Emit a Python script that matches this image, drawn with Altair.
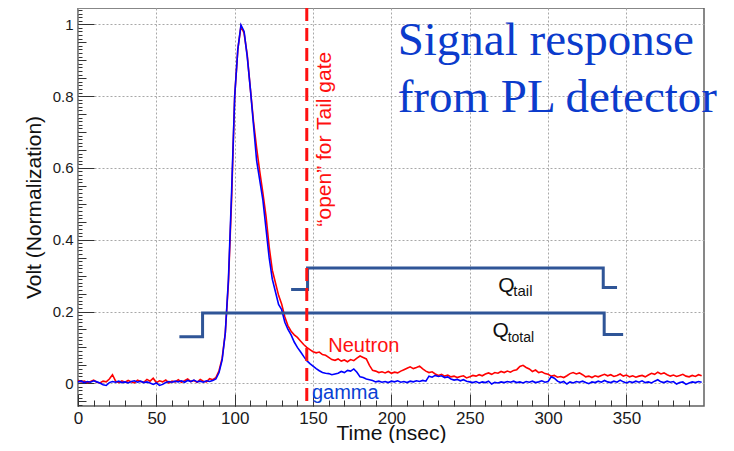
import altair as alt
import pandas as pd

# ---------------- data ----------------
T_NS = list(range(0, 400, 2))  # sample times (ns)

NEUTRON = [
    0.008, 0.004, 0.006, 0.002, 0.005, 0.009, 0.003, 0.001, 0.006, 0.004,
    0.012, 0.024, 0.006, 0.002, 0.007, 0.003, 0.008, 0.004, 0.001, 0.009,
    0.005, 0.003, 0.011, 0.006, 0.014, 0.002, 0.007, 0.004, 0.009, 0.001,
    0.006, 0.004, 0.010, 0.003, 0.007, 0.012, 0.005, 0.008, 0.003, 0.011,
    0.006, 0.004, 0.013, 0.010, 0.016, 0.035, 0.070, 0.140, 0.280, 0.510,
    0.800, 0.930, 0.995, 0.975, 0.915, 0.820, 0.730, 0.655, 0.590, 0.530,
    0.465, 0.380, 0.315, 0.280, 0.245, 0.220, 0.185, 0.160, 0.145, 0.135,
    0.128, 0.118, 0.108, 0.100, 0.094, 0.088, 0.085, 0.087, 0.080, 0.078,
    0.072, 0.066, 0.064, 0.068, 0.062, 0.065, 0.060, 0.066, 0.063, 0.070,
    0.076, 0.072, 0.068, 0.050, 0.036, 0.034, 0.030, 0.032, 0.029, 0.033,
    0.028, 0.031, 0.029, 0.034, 0.038, 0.042, 0.046, 0.041, 0.044, 0.048,
    0.040, 0.034, 0.030, 0.032, 0.026, 0.022, 0.025, 0.020, 0.023, 0.018,
    0.020, 0.016, 0.019, 0.021, 0.015, 0.018, 0.022, 0.020, 0.024, 0.021,
    0.026, 0.029, 0.025, 0.030, 0.028, 0.033, 0.030, 0.034, 0.031, 0.036,
    0.038, 0.047, 0.050, 0.044, 0.040, 0.033, 0.037, 0.030, 0.032, 0.027,
    0.025, 0.020, 0.022, 0.017, 0.019, 0.016, 0.021, 0.027, 0.030, 0.026,
    0.029, 0.024, 0.018, 0.020, 0.016, 0.021, 0.018, 0.022, 0.025, 0.021,
    0.024, 0.019, 0.022, 0.026, 0.020, 0.023, 0.018, 0.021, 0.017, 0.020,
    0.022, 0.018, 0.023, 0.028, 0.025, 0.031, 0.026, 0.029, 0.024, 0.020,
    0.023, 0.019, 0.022, 0.025, 0.020, 0.018, 0.022, 0.019, 0.024, 0.021,
]

GAMMA = [
    0.004, 0.006, 0.002, 0.005, 0.003, 0.007, 0.004, 0.001, -0.004, -0.006,
    0.002, 0.005, 0.003, 0.006, 0.002, 0.004, 0.001, 0.005, 0.007, 0.003,
    0.006, 0.002, 0.004, 0.001, -0.003, 0.001, -0.006, -0.003, 0.002, 0.005,
    0.003, 0.006, 0.004, 0.007, 0.003, 0.008, 0.005, 0.009, 0.004, 0.006,
    0.003, 0.007, 0.005, 0.008, 0.012, 0.030, 0.065, 0.140, 0.290, 0.530,
    0.800, 0.930, 0.998, 0.980, 0.910, 0.820, 0.720, 0.620, 0.565, 0.510,
    0.430, 0.350, 0.290, 0.255, 0.220, 0.205, 0.170, 0.150, 0.135, 0.115,
    0.100, 0.088, 0.075, 0.063, 0.055, 0.048, 0.041, 0.035, 0.030, 0.028,
    0.027, 0.024, 0.026, 0.028, 0.033, 0.030, 0.036, 0.034, 0.040, 0.031,
    0.018, 0.016, 0.012, 0.010, 0.008, 0.004, 0.006, 0.003, 0.005, 0.002,
    0.006, 0.004, 0.007, 0.003, 0.005, 0.002, 0.006, 0.004, 0.007, 0.005,
    0.008, 0.006, 0.020, 0.017, 0.022, 0.019, 0.021, 0.016, 0.018, 0.012,
    0.009, 0.011, 0.007, 0.010, 0.006, 0.004, 0.002, 0.005, 0.001, 0.004,
    0.002, 0.006, -0.002, 0.003, 0.001, 0.004, 0.002, 0.005, 0.003, 0.006,
    0.002, 0.004, 0.001, 0.005, 0.003, 0.006, 0.002, 0.004, 0.007, 0.003,
    0.005, 0.018, 0.014, 0.006, 0.002, 0.005, -0.002, 0.004, 0.001, 0.005,
    0.003, 0.006, 0.002, -0.001, 0.004, 0.002, 0.006, 0.003, 0.008, 0.004,
    0.002, 0.006, 0.003, 0.009, 0.004, 0.001, 0.005, 0.002, 0.006, 0.003,
    0.007, 0.002, 0.004, 0.001, 0.006, 0.010, 0.004, 0.002, 0.006, 0.003,
    0.005, -0.002, 0.002, 0.004, -0.003, 0.001, 0.004, 0.002, 0.005, 0.003,
]
assert len(NEUTRON) == len(T_NS) == len(GAMMA)

# gate shapes (ns, V)
QTAIL_X = [136, 146.5, 146.5, 335.2, 335.2, 344]
QTAIL_Y = [0.261, 0.261, 0.321, 0.321, 0.267, 0.267]
QTOTAL_X = [64.7, 79.5, 79.5, 335.8, 335.8, 347.9]
QTOTAL_Y = [0.130, 0.130, 0.196, 0.196, 0.136, 0.136]
GATE_OPEN_X = [146]

# tick values
X_MAJOR = [0, 50, 100, 150, 200, 250, 300, 350]
X_MINOR = [10 * i for i in range(40)]
Y_MAJOR = [0, 0.2, 0.4, 0.6, 0.8, 1.0]
Y_MINOR = [round(-0.05 + 0.05 * i, 2) for i in range(22)]
Y_FINE = [round(-0.06 + 0.01 * i, 2) for i in range(111)]

TITLE_LINES = ["Signal response", "from PL detector"]

# ---------------- chart ----------------
W, H = 626, 398
XS = alt.Scale(domain=[0, 399.5], nice=False, zero=False)
YS = alt.Scale(domain=[-0.0632, 1.0454], nice=False, zero=False)
SANS = "Liberation Sans"
SERIF = "Liberation Serif"
TICK_COLOR = "#333333"
GATE_COLOR = "#2f5597"

neutron_df = pd.DataFrame({"t": T_NS, "v": NEUTRON})
gamma_df = pd.DataFrame({"t": T_NS, "v": GAMMA})
qtail_df = pd.DataFrame({"t": QTAIL_X, "v": QTAIL_Y, "i": range(len(QTAIL_X))})
qtotal_df = pd.DataFrame({"t": QTOTAL_X, "v": QTOTAL_Y, "i": range(len(QTOTAL_X))})
gate_df = pd.DataFrame({"t": GATE_OPEN_X})

x_main = alt.Axis(
    values=X_MAJOR, title="Time (nsec)", grid=True, gridDash=[2, 2], gridColor="#a8a8a8",
    gridWidth=1, ticks=False, tickSize=0, domain=False, labelFont=SANS, labelFontSize=17,
    labelColor="#1a1a1a", labelPadding=4, labelFlush=False, labelOverlap=False,
    titleFont=SANS, titleFontSize=21, titleFontWeight="normal", titleColor="#111111",
    titleBaseline="alphabetic", titleY=33.5,
)
y_main = alt.Axis(
    values=Y_MAJOR, title="Volt (Normalization)", grid=True, gridDash=[2, 2],
    gridColor="#a8a8a8", gridWidth=1, ticks=False, tickSize=0, domain=False,
    labelFont=SANS, labelFontSize=15, labelColor="#1a1a1a", labelPadding=5,
    labelFlush=False, labelOverlap=False, format="~g",
    titleFont=SANS, titleFontSize=21, titleFontWeight="normal", titleColor="#111111",
    titleBaseline="alphabetic", titleX=-38, titleY=H / 2,
)


def tick_axis_x(values, size):
    return alt.Axis(orient="top", offset=-H, values=values, ticks=True, tickSize=size,
                    tickColor=TICK_COLOR, tickWidth=1, labels=False, domain=False,
                    grid=False, title="")


def tick_axis_y(values, size):
    return alt.Axis(orient="right", offset=-W, values=values, ticks=True, tickSize=size,
                    tickColor=TICK_COLOR, tickWidth=1, labels=False, domain=False,
                    grid=False, title="")


neutron = alt.Chart(neutron_df).mark_line(color="#ff0000", strokeWidth=1.6).encode(
    x=alt.X("t:Q", scale=XS, axis=x_main),
    y=alt.Y("v:Q", scale=YS, axis=y_main),
)
gamma = alt.Chart(gamma_df).mark_line(color="#0000ff", strokeWidth=1.6).encode(
    x=alt.X("t:Q", scale=XS, axis=tick_axis_x(X_MAJOR, 12)),
    y=alt.Y("v:Q", scale=YS, axis=tick_axis_y(Y_MAJOR, 16)),
)
qtotal = alt.Chart(qtotal_df).mark_line(color=GATE_COLOR, strokeWidth=3, strokeJoin="miter").encode(
    x=alt.X("t:Q", scale=XS, axis=tick_axis_x(X_MINOR, 6)),
    y=alt.Y("v:Q", scale=YS, axis=tick_axis_y(Y_MINOR, 8)),
    order="i:Q",
)
qtail = alt.Chart(qtail_df).mark_line(color=GATE_COLOR, strokeWidth=3, strokeJoin="miter").encode(
    x=alt.X("t:Q", scale=XS, axis=None),
    y=alt.Y("v:Q", scale=YS, axis=tick_axis_y(Y_FINE, 4)),
    order="i:Q",
)
gate = alt.Chart(gate_df).mark_rule(color="#ff1010", strokeWidth=3, strokeDash=[13, 7]).encode(
    x=alt.X("t:Q", scale=XS, axis=None),
)


def label(text, x, y, **kw):
    return alt.Chart(pd.DataFrame({"s": [text]})).mark_text(**kw).encode(
        x=alt.XDatum(x, scale=XS, axis=None),
        y=alt.YDatum(y, scale=YS, axis=None),
        text="s:N",
    )


texts = [
    label(TITLE_LINES[0], 204, 0.9145, font=SERIF, fontSize=47, color="#0b3bcc",
          align="left", baseline="alphabetic"),
    label(TITLE_LINES[1], 204, 0.7566, font=SERIF, fontSize=47, color="#0b3bcc",
          align="left", baseline="alphabetic"),
    label("\u201copen\u201d for Tail gate", 157.7, 0.68, font=SANS, fontSize=21,
          color="#ff1010", angle=270, align="center", baseline="middle"),
    label("Neutron", 159.7, 0.088, font=SANS, fontSize=20, color="#ff1010",
          align="left", baseline="alphabetic"),
    label("gamma", 149.3, -0.044, font=SANS, fontSize=20, color="#0a3fd4",
          align="left", baseline="alphabetic"),
    label("Q", 268.2, 0.255, font=SANS, fontSize=21, color="#111111",
          align="left", baseline="alphabetic"),
    label("tail", 277.8, 0.244, font=SANS, fontSize=15, color="#111111",
          align="left", baseline="alphabetic"),
    label("Q", 264.6, 0.1298, font=SANS, fontSize=21, color="#111111",
          align="left", baseline="alphabetic"),
    label("total", 274.2, 0.1142, font=SANS, fontSize=14, color="#111111",
          align="left", baseline="alphabetic"),
]

chart = alt.layer(neutron, gamma, qtotal, qtail, gate, *texts).resolve_axis(
    x="independent", y="independent"
).properties(
    width=W, height=H,
    padding={"left": 70, "top": 0, "right": 22, "bottom": 37},
    autosize=alt.AutoSizeParams(type="none"),
).configure_view(stroke="#606060", strokeWidth=1.5)

chart.save("out.html", embed_options={"renderer": "svg", "actions": False})
